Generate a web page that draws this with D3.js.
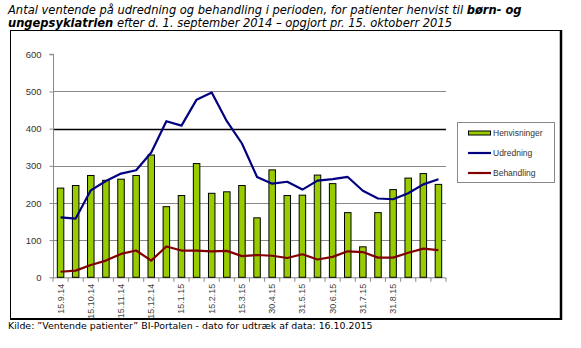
<!DOCTYPE html>
<html><head><meta charset="utf-8">
<script src="https://cdn.jsdelivr.net/npm/d3@7"></script>
<style>body{margin:0;background:#fff;} svg{display:block;}</style>
</head><body>
<svg id="c" width="581" height="348"></svg>
<script>
const categories = ["15.9.14","","15.10.14","","15.11.14","","15.12.14","","15.1.15","","15.2.15","","15.3.15","","30.4.15","","31.5.15","","30.6.15","","31.7.15","","31.8.15","","",""];
const henvisninger = [240,247,274,261,264,274,329,190,220,306,226,230,247,160,289,220,221,275,252,174,82,174,236,267,279,250];
const udredning = [161,158,234,259,279,288,336,420,408,478,497,420,360,270,252,257,236,260,264,270,233,212,210,226,250,264];
const behandling = [15,18,33,45,63,72,45,83,72,72,70,71,57,60,58,52,62,48,55,70,68,53,53,66,77,73];
const yTicks = [0,100,200,300,400,500,600];
const seriesNames = ["Henvisninger","Udredning","Behandling"];

const svg = d3.select("#c");
const L = 53, R = 446, T = 54.3, B = 277.3;
const x = d3.scaleBand().domain(d3.range(categories.length)).range([L, R]).paddingInner(0.57).paddingOuter(0.285);
const y = d3.scaleLinear().domain([0, 600]).range([B, T]);

// frame
svg.append("rect").attr("x",10.5).attr("y",30.5).attr("width",550).attr("height",288).attr("fill","none").attr("stroke","#000").attr("stroke-width",1);
svg.append("line").attr("x1",561).attr("x2",561).attr("y1",30).attr("y2",320).attr("stroke","#000").attr("stroke-width",2.5);
svg.append("line").attr("x1",10).attr("x2",562).attr("y1",319).attr("y2",319).attr("stroke","#000").attr("stroke-width",2);

// title
const title = svg.append("text").attr("font-family","DejaVu Sans, Verdana, sans-serif").attr("font-style","italic").attr("font-size",11).attr("fill","#000");
const t1 = title.append("tspan").attr("x",8).attr("y",13.5);
t1.append("tspan").text("Antal ventende på udredning og behandling i perioden, for patienter henvist til ");
t1.append("tspan").attr("font-weight","bold").text("børn- og");
const t2 = title.append("tspan").attr("x",8).attr("y",26.5);
t2.append("tspan").attr("font-weight","bold").text("ungepsykiatrien");
t2.append("tspan").text(" efter d. 1. september 2014 – opgjort pr. 15. oktoberr 2015");
// fit first line width
const w1 = t1.node().getComputedTextLength();
const fs = 11 * (514 / w1);
title.attr("font-size", fs);

// source
svg.append("text").attr("x",8).attr("y",329).attr("font-family","DejaVu Sans, Verdana, sans-serif").attr("font-size",10).attr("fill","#000")
  .text("Kilde: \u201dVentende patienter\u201d BI-Portalen - dato for udtræk af data: 16.10.2015")
  .each(function(){ const w=this.getComputedTextLength(); d3.select(this).attr("font-size", 10*365/w); });

// gridlines
svg.append("g").selectAll("line").data(yTicks.filter(v => v>0 && v<600)).join("line")
  .attr("x1",L).attr("x2",R).attr("y1",d=>Math.round(y(d))+0.5).attr("y2",d=>Math.round(y(d))+0.5)
  .attr("stroke",d=> d===400 ? "#000" : "#888").attr("stroke-width",d=> d===400 ? 1.5 : 1);

// y axis
const yAxis = d3.axisLeft(y).tickValues(yTicks).tickSize(4).tickPadding(8);
const gy = svg.append("g").attr("transform",`translate(${L+0.5},0)`).call(yAxis);
gy.select(".domain").attr("stroke","#888").attr("d",`M-4,${y(600)}H0V${B}`);
gy.selectAll(".tick line").attr("stroke","#888");
gy.selectAll(".tick text").attr("font-family","Liberation Sans, Arial, sans-serif").attr("font-size",9.5).attr("fill","#333");

// x axis
const gx = svg.append("g").attr("transform",`translate(0,${B+0.5})`);
gx.append("line").attr("x1",L).attr("x2",R).attr("stroke","#888");
const step = x.step();
gx.selectAll("line.tk").data(d3.range(categories.length+1)).join("line").attr("class","tk")
  .attr("x1",i=>L+i*step).attr("x2",i=>L+i*step).attr("y1",0).attr("y2",4).attr("stroke","#888");
gx.selectAll("text").data(categories.map((c,i)=>({c,i})).filter(d=>d.c)).join("text")
  .attr("transform",d=>`translate(${x(d.i)+x.bandwidth()/2+3},6) rotate(-90)`)
  .attr("text-anchor","end").attr("font-family","Liberation Sans, Arial, sans-serif").attr("font-size",9).attr("fill","#444")
  .text(d=>d.c);

// bars
svg.append("g").selectAll("rect").data(henvisninger).join("rect")
  .attr("x",(d,i)=>x(i)).attr("y",d=>y(d)).attr("width",x.bandwidth()).attr("height",d=>B-y(d))
  .attr("fill","#99cc00").attr("stroke","#000").attr("stroke-width",1);

// lines
const line = d3.line().x((d,i)=>x(i)+x.bandwidth()/2).y(d=>y(d));
svg.append("path").datum(udredning).attr("d",line).attr("fill","none").attr("stroke","#000080").attr("stroke-width",2.2).attr("stroke-linejoin","round");
svg.append("path").datum(behandling).attr("d",line).attr("fill","none").attr("stroke","#800000").attr("stroke-width",2.2).attr("stroke-linejoin","round");

// legend
const lg = svg.append("g");
lg.append("rect").attr("x",457.5).attr("y",122.5).attr("width",97).attr("height",60).attr("fill","#fff").attr("stroke","#888");
const colors = ["#99cc00","#000080","#800000"];
seriesNames.forEach((n,i)=>{
  const yy = 133 + i*20;
  if(i===0){
    lg.append("rect").attr("x",468.5).attr("y",yy-2).attr("width",22).attr("height",4).attr("fill",colors[0]).attr("stroke","#000");
  } else {
    lg.append("line").attr("x1",468).attr("x2",491).attr("y1",yy).attr("y2",yy).attr("stroke",colors[i]).attr("stroke-width",2.2);
  }
  lg.append("text").attr("x",493).attr("y",yy+3).attr("font-family","Liberation Sans, Arial, sans-serif").attr("font-size",8.5).attr("fill","#333").text(n);
});
</script>
</body></html>
